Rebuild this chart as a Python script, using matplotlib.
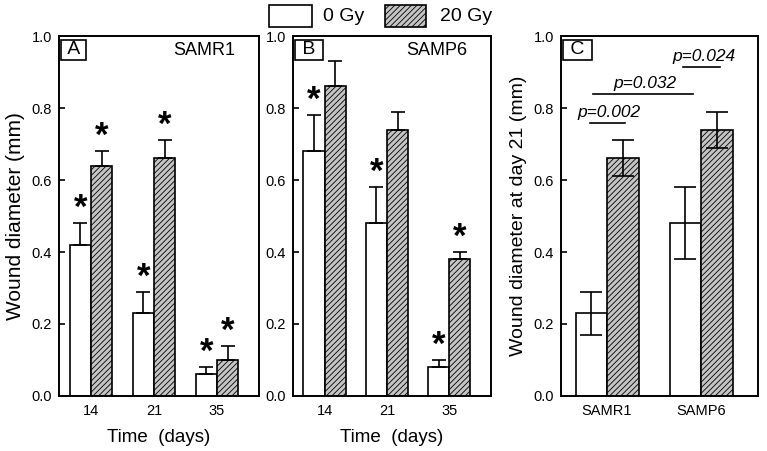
import numpy as np
import matplotlib.pyplot as plt
from matplotlib.patches import Rectangle

plt.rcParams['font.family'] = ['Liberation Sans', 'DejaVu Sans']
plt.rcParams['hatch.linewidth'] = 0.6
plt.rcParams['hatch.color'] = '#505050'

# datos
dias = ['14', '21', '35']
samr1_0gy = [0.42, 0.23, 0.06]
samr1_0gy_err = [0.06, 0.06, 0.02]
samr1_20gy = [0.64, 0.66, 0.10]
samr1_20gy_err = [0.04, 0.05, 0.04]
samp6_0gy = [0.68, 0.48, 0.08]
samp6_0gy_err = [0.10, 0.10, 0.02]
samp6_20gy = [0.86, 0.74, 0.38]
samp6_20gy_err = [0.07, 0.05, 0.02]
# asteriscos: (0 Gy, 20 Gy) por dia
samr1_stars = [(True, True), (True, True), (True, True)]
samp6_stars = [(True, False), (True, False), (True, True)]

cepas = ['SAMR1', 'SAMP6']
dia21_0gy = [0.23, 0.48]
dia21_0gy_err = [0.06, 0.10]
dia21_20gy = [0.66, 0.74]
dia21_20gy_err = [0.05, 0.05]

# comparaciones del panel C: (x1, x2, y de la linea, x del texto, texto)
comparaciones = [(-0.18, 0.19, 0.758, 0.02, 'p=0.002'),
                 (-0.15, 0.915, 0.839, 0.40, 'p=0.032'),
                 (0.81, 1.20, 0.914, 1.03, 'p=0.024')]

gris = '#c4c4c4'
fig = plt.figure(figsize=(7.67, 4.51), dpi=100)
axA = fig.add_axes([0.0769, 0.122, 0.2608, 0.798])
axB = fig.add_axes([0.382, 0.122, 0.258, 0.798])
axC = fig.add_axes([0.7314, 0.122, 0.257, 0.798])


def estilo(ax):
    ax.set_ylim(0, 1.0)
    ax.set_yticks([0, 0.2, 0.4, 0.6, 0.8, 1.0])
    ax.set_yticklabels(['0.0', '0.2', '0.4', '0.6', '0.8', '1.0'], fontsize=10.5)
    ax.tick_params(axis='y', direction='in', length=4, width=1.2, pad=5)
    ax.tick_params(axis='x', length=0, labelsize=10.5, pad=6)
    for s in ax.spines.values():
        s.set_linewidth(1.4)


def caja(ax, letra):
    ax.text(0.02, 0.985, letra, transform=ax.transAxes, ha='left', va='top', fontsize=14,
            bbox=dict(boxstyle='square,pad=0.1', facecolor='white', edgecolor='black', linewidth=1.2))


def panel_tiempo(ax, v0, e0, v20, e20, stars, letra, nombre):
    x = np.arange(len(dias))
    w = 0.34
    ax.bar(x - w / 2, v0, w, color='white', edgecolor='black', linewidth=1.2)
    ax.bar(x + w / 2, v20, w, color=gris, edgecolor='black', linewidth=1.2, hatch='//////')
    ax.errorbar(x - w / 2, v0, yerr=[np.zeros(3), e0], fmt='none', ecolor='black',
                elinewidth=1.2, capsize=5, capthick=1.2)
    ax.errorbar(x + w / 2, v20, yerr=[np.zeros(3), e20], fmt='none', ecolor='black',
                elinewidth=1.2, capsize=5, capthick=1.2)
    for i in range(3):
        if stars[i][0]:
            ax.text(x[i] - w / 2, v0[i] + e0[i] - 0.005, '*', ha='center', va='bottom',
                    fontsize=25, fontweight='bold')
        if stars[i][1]:
            ax.text(x[i] + w / 2, v20[i] + e20[i] - 0.005, '*', ha='center', va='bottom',
                    fontsize=25, fontweight='bold')
    ax.set_xlim(-0.508, 2.667)
    ax.set_xticks(x)
    ax.set_xticklabels(dias)
    estilo(ax)
    ax.set_xlabel('Time  (days)', fontsize=13.5, labelpad=8)
    caja(ax, ' ' + letra + ' ')
    ax.text(0.88, 0.961, nombre, transform=ax.transAxes, ha='right', va='center', fontsize=13)


panel_tiempo(axA, samr1_0gy, samr1_0gy_err, samr1_20gy, samr1_20gy_err, samr1_stars, 'A', 'SAMR1')
panel_tiempo(axB, samp6_0gy, samp6_0gy_err, samp6_20gy, samp6_20gy_err, samp6_stars, 'B', 'SAMP6')
axA.set_ylabel('Wound diameter (mm)', fontsize=15, labelpad=5)

# panel C
xc = np.arange(len(cepas))
wc = 0.335
axC.bar(xc - wc / 2, dia21_0gy, wc, color='white', edgecolor='black', linewidth=1.2)
axC.bar(xc + wc / 2, dia21_20gy, wc, color=gris, edgecolor='black', linewidth=1.2, hatch='//////')
axC.errorbar(xc - wc / 2, dia21_0gy, yerr=dia21_0gy_err, fmt='none', ecolor='black',
             elinewidth=1.2, capsize=8, capthick=1.2)
axC.errorbar(xc + wc / 2, dia21_20gy, yerr=dia21_20gy_err, fmt='none', ecolor='black',
             elinewidth=1.2, capsize=8, capthick=1.2)
axC.set_xlim(-0.49, 1.606)
axC.set_xticks(xc)
axC.set_xticklabels(cepas)
estilo(axC)
axC.set_ylabel('Wound diameter at day 21 (mm)', fontsize=14, labelpad=5)
caja(axC, ' C ')

for x1, x2, y, xt, txt in comparaciones:
    axC.plot([x1, x2], [y, y], color='black', linewidth=1.2)
    axC.text(xt, y + 0.016, txt, ha='center', va='baseline', fontsize=12.5, style='italic')

# leyenda dibujada a mano
fig.add_artist(Rectangle((0.3507, 0.940), 0.0561, 0.0488, transform=fig.transFigure,
                         facecolor='white', edgecolor='black', linewidth=1.2))
fig.add_artist(Rectangle((0.502, 0.940), 0.0535, 0.0488, transform=fig.transFigure,
                         facecolor=gris, edgecolor='black', linewidth=1.2, hatch='//////'))
fig.text(0.421, 0.9645, '0 Gy', ha='left', va='center', fontsize=14)
fig.text(0.5737, 0.9645, '20 Gy', ha='left', va='center', fontsize=14)

fig.savefig('out.png', dpi=100)
